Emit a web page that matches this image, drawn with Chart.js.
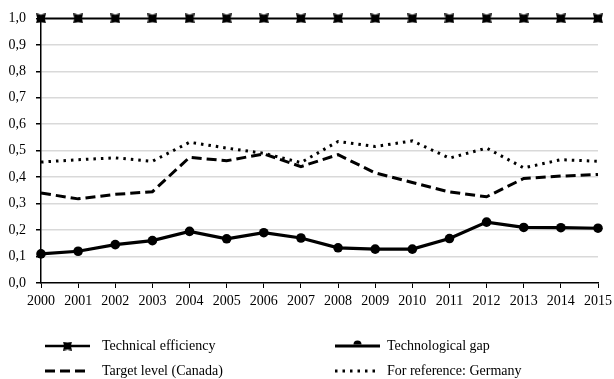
<!DOCTYPE html>
<html><head><meta charset="utf-8">
<script src="https://cdn.jsdelivr.net/npm/chart.js@4/dist/chart.umd.min.js"></script>
<style>html,body{margin:0;padding:0;background:#fff}</style>
</head><body>
<canvas id="c" width="614" height="379"></canvas>
<script>
const years = ['2000','2001','2002','2003','2004','2005','2006','2007','2008','2009','2010','2011','2012','2013','2014','2015'];
const technicalEfficiency = [1,1,1,1,1,1,1,1,1,1,1,1,1,1,1,1];
const technologicalGap = [0.11,0.12,0.145,0.16,0.195,0.167,0.19,0.17,0.133,0.128,0.128,0.168,0.23,0.21,0.209,0.207];
const targetCanada = [0.34,0.318,0.335,0.345,0.475,0.462,0.488,0.44,0.485,0.416,0.38,0.344,0.326,0.395,0.404,0.41];
const germany = [0.457,0.466,0.473,0.46,0.532,0.51,0.49,0.455,0.535,0.516,0.537,0.472,0.51,0.435,0.466,0.46];
const yTickLabels = ['0,0','0,1','0,2','0,3','0,4','0,5','0,6','0,7','0,8','0,9','1,0'];
const seriesNames = ['Technical efficiency','Technological gap','Target level (Canada)','For reference: Germany'];

const FONT = '"Liberation Serif", "Times New Roman", serif';

function bowtie(size){
  const c = document.createElement('canvas');
  c.width = size; c.height = size;
  const g = c.getContext('2d');
  const s = size, k = s*0.12;
  g.fillStyle = '#000';
  g.beginPath();
  g.moveTo(0,0); g.lineTo(s/2,k); g.lineTo(s,0); g.lineTo(s-k,s/2);
  g.lineTo(s,s); g.lineTo(s/2,s-k); g.lineTo(0,s); g.lineTo(k,s/2);
  g.closePath(); g.fill();
  return c;
}
const effMarker = bowtie(10);
const effMarkerSmall = bowtie(9);

const legendPlugin = {
  id: 'customLegend',
  afterDraw(chart){
    const ctx = chart.ctx;
    const items = [
      {name: seriesNames[0], x: 45, tx: 102, y: 346, width: 2.5, dash: [], marker: 'bow'},
      {name: seriesNames[1], x: 335, tx: 387, y: 346, width: 3, dash: [], marker: 'dot'},
      {name: seriesNames[2], x: 45, tx: 102, y: 371, width: 3, dash: [10,5], marker: null},
      {name: seriesNames[3], x: 335, tx: 387, y: 371, width: 3, dash: [2.5,5], marker: null}
    ];
    ctx.save();
    items.forEach(it => {
      ctx.strokeStyle = '#000';
      ctx.lineWidth = it.width;
      ctx.setLineDash(it.dash);
      ctx.beginPath();
      ctx.moveTo(it.x, it.y);
      ctx.lineTo(it.x + 45, it.y);
      ctx.stroke();
      ctx.setLineDash([]);
      if (it.marker === 'bow') {
        ctx.drawImage(effMarkerSmall, it.x + 22.5 - 4.5, it.y - 4.5);
      } else if (it.marker === 'dot') {
        ctx.fillStyle = '#000';
        ctx.beginPath();
        ctx.arc(it.x + 22.5, it.y - 1.5, 4, Math.PI, 0);
        ctx.fill();
      }
      ctx.fillStyle = '#000';
      ctx.font = '14px ' + FONT;
      ctx.textBaseline = 'middle';
      ctx.textAlign = 'left';
      ctx.fillText(it.name, it.tx, it.y);
    });
    ctx.restore();
  }
};

new Chart(document.getElementById('c'), {
  type: 'line',
  data: {
    labels: years,
    datasets: [
      {label: seriesNames[3], data: germany, borderColor: '#000', borderWidth: 3, borderDash: [2.5,5], borderCapStyle: 'butt', pointRadius: 0, tension: 0, clip: false},
      {label: seriesNames[2], data: targetCanada, borderColor: '#000', borderWidth: 3, borderDash: [10,5], pointRadius: 0, tension: 0, clip: false},
      {label: seriesNames[1], data: technologicalGap, borderColor: '#000', backgroundColor: '#000', borderWidth: 3.2, pointRadius: 4.8, pointStyle: 'circle', pointBackgroundColor: '#000', pointBorderColor: '#000', pointBorderWidth: 0, tension: 0, clip: false},
      {label: seriesNames[0], data: technicalEfficiency, borderColor: '#000', borderWidth: 2, pointStyle: effMarker, pointRadius: 5, tension: 0, clip: false}
    ]
  },
  options: {
    responsive: false,
    animation: false,
    events: [],
    layout: {padding: {top: 16, right: 0, bottom: 66, left: 0}},
    plugins: {legend: {display: false}, tooltip: {enabled: false}},
    scales: {
      x: {
        offset: false,
        grid: {display: true, drawOnChartArea: false, drawTicks: true, tickLength: 5, tickColor: '#000'},
        border: {display: true, color: '#000', width: 1.5},
        ticks: {color: '#000', font: {family: FONT, size: 14}, padding: 5, maxRotation: 0, autoSkip: false},
        afterFit(scale){ scale.height = 30; scale.paddingRight = 16; scale.paddingLeft = 0; }
      },
      y: {
        min: 0, max: 1,
        grid: {
          color: ctx => (ctx.tick && ctx.tick.value > 0.001 && ctx.tick.value < 0.999) ? '#d9d9d9' : 'rgba(0,0,0,0)',
          lineWidth: 1.5,
          drawTicks: true, tickLength: 5, tickColor: '#000'
        },
        border: {display: true, color: '#000', width: 1.5},
        ticks: {
          stepSize: 0.1, color: '#000', font: {family: FONT, size: 14}, padding: 10,
          callback: (v, i) => yTickLabels[i]
        },
        afterFit(scale){ scale.width = 41; }
      }
    }
  },
  plugins: [legendPlugin]
});
</script>
</body></html>
